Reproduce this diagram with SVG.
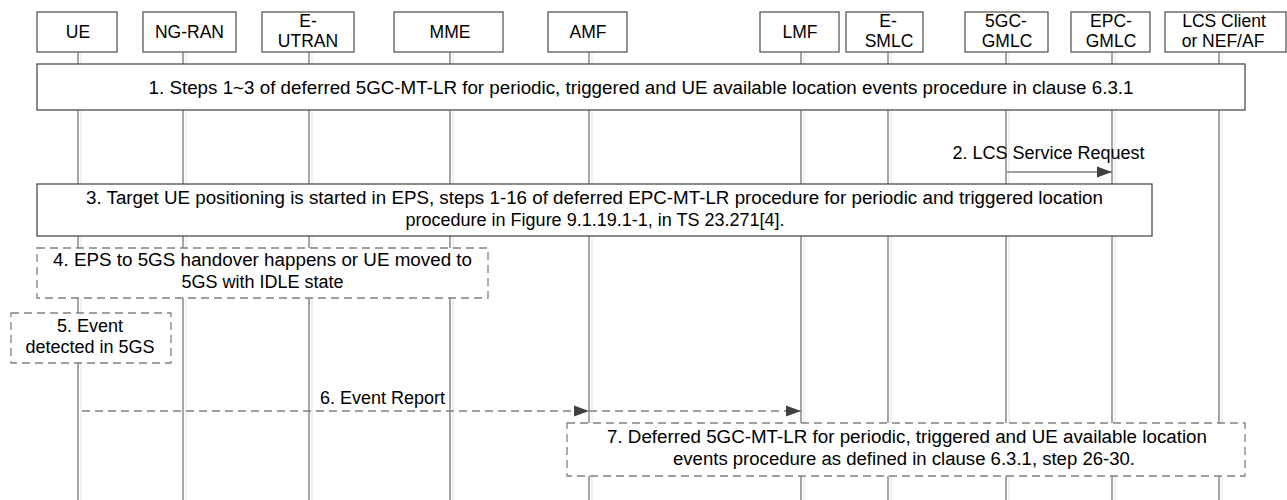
<svg xmlns="http://www.w3.org/2000/svg" width="1287" height="500" viewBox="0 0 1287 500">
<style>
text{font-family:"Liberation Sans",Arial,sans-serif;fill:#000}
.h{font-size:17.5px;text-anchor:middle}
.t{font-size:18px;text-anchor:middle}
.hb{fill:#fff;stroke:#595959;stroke-width:1.3}
.ll{stroke:#808080;stroke-width:1.4;fill:none}
.sh{stroke:#ececec;stroke-width:1.4;fill:none}
.sb{fill:#fff;stroke:#4d4d4d;stroke-width:1.3}
.db{fill:#fff;stroke:#808080;stroke-width:1.3;stroke-dasharray:8,5}
.msg{stroke:#808080;stroke-width:1.4;fill:none}
.dm{stroke:#808080;stroke-width:1.4;fill:none;stroke-dasharray:8,5}
</style>
<defs>
<marker id="ah" markerUnits="userSpaceOnUse" markerWidth="16" markerHeight="12" refX="15" refY="6" orient="auto">
<path d="M0,0.5 L15,6 L0,11.5 z" fill="#404040"/>
</marker>
</defs>
<rect width="1287" height="500" fill="#fff"/>
<g id="lifelines">
<path class="sh" d="M81,52V500M186,52V500M312,52V500M453,52V500M592,52V500M804,52V500M891,52V500M1009,52V500M1115,52V500M1222,52V500"/>
<path class="ll" d="M78,52V500M183,52V500M309,52V500M450,52V500M589,52V500M801,52V500M888,52V500M1006,52V500M1112,52V500M1219,52V500"/>
</g>
<g id="n-ue"><rect class="hb" x="37" y="12" width="80" height="40"/><text class="h" x="78" y="38">UE</text></g>
<g id="n-ngran"><rect class="hb" x="143" y="12" width="93" height="40"/><text class="h" x="189.5" y="38">NG-RAN</text></g>
<g id="n-eutran"><rect class="hb" x="262" y="12" width="92" height="40"/><text class="h" x="308" y="27">E-</text><text class="h" x="308" y="47">UTRAN</text></g>
<g id="n-mme"><rect class="hb" x="394" y="12" width="109" height="40"/><text class="h" x="450" y="38">MME</text></g>
<g id="n-amf"><rect class="hb" x="548" y="12" width="79" height="40"/><text class="h" x="588" y="38">AMF</text></g>
<g id="n-lmf"><rect class="hb" x="760" y="12" width="79" height="40"/><text class="h" x="800" y="38">LMF</text></g>
<g id="n-esmlc"><rect class="hb" x="846" y="12" width="77" height="40"/><text class="h" x="888" y="27">E-</text><text class="h" x="889" y="47">SMLC</text></g>
<g id="n-5gcgmlc"><rect class="hb" x="965" y="12" width="83" height="40"/><text class="h" x="1006" y="27">5GC-</text><text class="h" x="1007" y="47">GMLC</text></g>
<g id="n-epcgmlc"><rect class="hb" x="1071" y="12" width="79" height="40"/><text class="h" x="1111" y="27">EPC-</text><text class="h" x="1111" y="47">GMLC</text></g>
<g id="n-lcs"><rect class="hb" x="1165" y="12" width="121" height="40"/><text class="h" x="1224" y="27">LCS Client</text><text class="h" x="1223" y="47">or NEF/AF</text></g>
<g id="step1"><rect class="sb" x="37" y="64" width="1208" height="46"/><text class="t" x="641" y="94" textLength="985" lengthAdjust="spacingAndGlyphs">1.  Steps 1~3 of deferred 5GC-MT-LR for periodic, triggered and UE available location events procedure in clause 6.3.1</text></g>
<g id="step3"><rect class="sb" x="37" y="184" width="1115" height="52"/><text class="t" x="594.5" y="204" textLength="1017" lengthAdjust="spacingAndGlyphs">3. Target UE positioning is started in EPS, steps 1-16 of deferred EPC-MT-LR procedure for periodic and triggered location</text><text class="t" x="595" y="226">procedure in Figure 9.1.19.1-1, in TS 23.271[4].</text></g>
<g id="step4"><rect class="db" x="37" y="248" width="451" height="50"/><text class="t" x="262.5" y="266" textLength="419" lengthAdjust="spacingAndGlyphs">4. EPS to 5GS handover happens or UE moved to</text><text class="t" x="262.5" y="288">5GS with IDLE state</text></g>
<g id="step5"><rect class="db" x="11" y="313" width="160" height="50"/><text class="t" x="90" y="332">5. Event</text><text class="t" x="90" y="353">detected in 5GS</text></g>
<g id="step7"><rect class="db" x="567" y="423" width="678" height="53"/><text class="t" x="907" y="443" textLength="600" lengthAdjust="spacingAndGlyphs">7. Deferred 5GC-MT-LR for periodic, triggered and UE available location</text><text class="t" x="904" y="465" textLength="462" lengthAdjust="spacingAndGlyphs">events procedure as defined in clause 6.3.1, step 26-30.</text></g>
<g id="connectors">
<path class="msg" d="M1007,172H1112" marker-end="url(#ah)"/>
<text class="t" x="1048.5" y="159">2. LCS Service Request</text>
<path class="dm" d="M82,411H589" marker-end="url(#ah)"/>
<path class="dm" d="M589,411H801" marker-end="url(#ah)"/>
<text class="t" x="382.5" y="404">6. Event Report</text>
</g>
</svg>
